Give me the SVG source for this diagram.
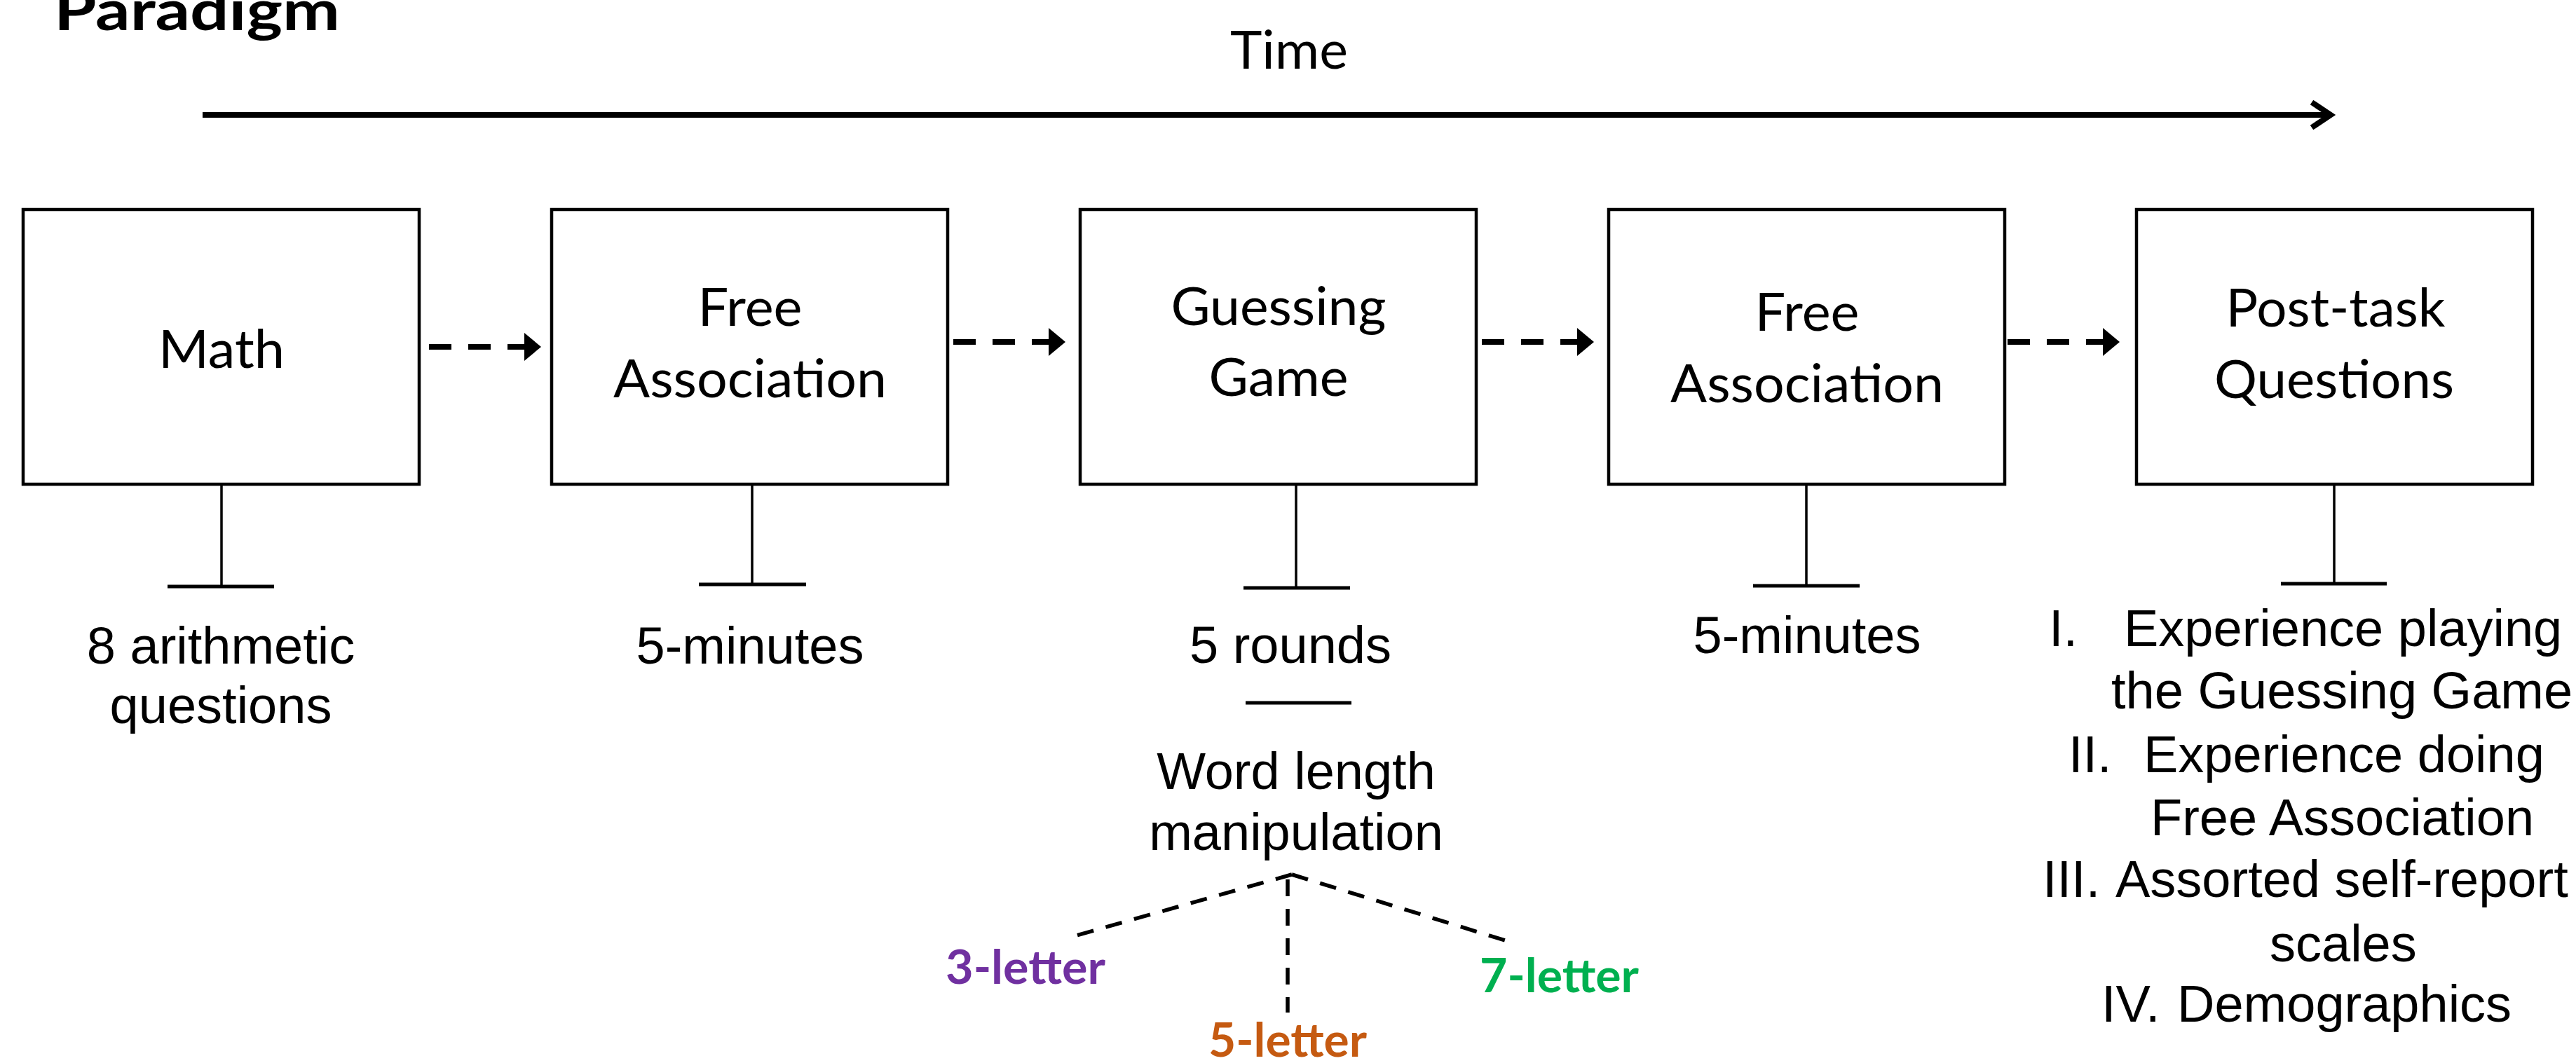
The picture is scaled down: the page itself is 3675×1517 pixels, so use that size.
<svg xmlns="http://www.w3.org/2000/svg" width="3675" height="1517" viewBox="0 0 3675 1517">
<style>
.box{fill:#fff;stroke:#000;stroke-width:4.5}
.bt{font-family:Lato,"Open Sans",sans-serif;font-size:76px;fill:#000;text-anchor:middle}
.lb{font-family:"Liberation Sans",Arial,sans-serif;font-size:74px;fill:#000;text-anchor:middle}
.ls{font-family:"Liberation Sans",Arial,sans-serif;font-size:74px;fill:#000}
.stem{stroke:#000;stroke-width:3.5}
.bar{stroke:#000;stroke-width:5}
.conn{stroke:#000;stroke-width:8;stroke-dasharray:32 24;fill:none}
.tree{stroke:#000;stroke-width:5.5;stroke-dasharray:24 18;fill:none}
.cl{font-family:Lato,"Open Sans",sans-serif;font-weight:bold;font-size:66px}
</style>
<defs>
<marker id="tri" viewBox="0 0 24 40" refX="0" refY="20" markerWidth="24" markerHeight="40" markerUnits="userSpaceOnUse" orient="auto">
<path d="M0,0 L24,20 L0,40 Z" fill="#000"/>
</marker>
</defs>
<rect width="3675" height="1517" fill="#fff"/>

<g id="title">
<text x="77" y="43" font-family="Lato,'Open Sans',sans-serif" font-weight="bold" font-size="80" textLength="408" lengthAdjust="spacingAndGlyphs">Paradigm</text>
</g>

<g id="timeline">
<text class="bt" x="1839" y="98" textLength="168" lengthAdjust="spacingAndGlyphs">Time</text>
<line x1="289" y1="164" x2="3322" y2="164" stroke="#000" stroke-width="8"/>
<polyline points="3298,146 3325,164 3298,182" fill="none" stroke="#000" stroke-width="8" stroke-linejoin="miter"/>
</g>

<g id="connectors">
<line class="conn" x1="612" y1="495" x2="748" y2="495" marker-end="url(#tri)"/>
<line class="conn" x1="1360" y1="488" x2="1496" y2="488" marker-end="url(#tri)"/>
<line class="conn" x1="2114" y1="488" x2="2250" y2="488" marker-end="url(#tri)"/>
<line class="conn" x1="2864" y1="488" x2="3000" y2="488" marker-end="url(#tri)"/>
<line class="stem" x1="316" y1="691" x2="316" y2="837"/>
<line class="bar" x1="239" y1="837" x2="391" y2="837"/>
<line class="stem" x1="1073" y1="691" x2="1073" y2="834"/>
<line class="bar" x1="997" y1="834" x2="1150" y2="834"/>
<line class="stem" x1="1849" y1="691" x2="1849" y2="839"/>
<line class="bar" x1="1774" y1="839" x2="1926" y2="839"/>
<line class="stem" x1="2577" y1="691" x2="2577" y2="836"/>
<line class="bar" x1="2501" y1="836" x2="2653" y2="836"/>
<line class="stem" x1="3330" y1="691" x2="3330" y2="833"/>
<line class="bar" x1="3254" y1="833" x2="3405" y2="833"/>
<line class="bar" x1="1777" y1="1003" x2="1928" y2="1003"/>
<line class="tree" x1="1843" y1="1248" x2="1525" y2="1338"/>
<line class="tree" x1="1843" y1="1248" x2="2147" y2="1342"/>
<line class="tree" x1="1837" y1="1255" x2="1837" y2="1445"/>
</g>

<g id="math">
<rect class="box" x="33" y="299" width="565" height="392"/>
<text class="bt" x="316" y="525" textLength="180" lengthAdjust="spacingAndGlyphs">Math</text>
<text class="lb" x="315" y="947">8 arithmetic</text>
<text class="lb" x="315" y="1032">questions</text>
</g>

<g id="free-association-1">
<rect class="box" x="787" y="299" width="565" height="392"/>
<text class="bt" x="1070" y="465" textLength="149" lengthAdjust="spacingAndGlyphs">Free</text>
<text class="bt" x="1070" y="567" textLength="390" lengthAdjust="spacingAndGlyphs">Association</text>
<text class="lb" x="1070" y="947">5-minutes</text>
</g>

<g id="guessing-game">
<rect class="box" x="1541" y="299" width="565" height="392"/>
<text class="bt" x="1824" y="464" textLength="307" lengthAdjust="spacingAndGlyphs">Guessing</text>
<text class="bt" x="1824" y="565" textLength="199" lengthAdjust="spacingAndGlyphs">Game</text>
<text class="lb" x="1841" y="946">5 rounds</text>
<text class="lb" x="1849" y="1126">Word length</text>
<text class="lb" x="1849" y="1213">manipulation</text>
<text class="cl" x="1349" y="1404" fill="#7030A0" textLength="228" lengthAdjust="spacingAndGlyphs">3-letter</text>
<text class="cl" x="1724" y="1508" fill="#C55A11" textLength="226" lengthAdjust="spacingAndGlyphs">5-letter</text>
<text class="cl" x="2111" y="1416" fill="#00B050" textLength="227" lengthAdjust="spacingAndGlyphs">7-letter</text>
</g>

<g id="free-association-2">
<rect class="box" x="2295" y="299" width="565" height="392"/>
<text class="bt" x="2578" y="472" textLength="149" lengthAdjust="spacingAndGlyphs">Free</text>
<text class="bt" x="2578" y="574" textLength="390" lengthAdjust="spacingAndGlyphs">Association</text>
<text class="lb" x="2578" y="932">5-minutes</text>
</g>

<g id="post-task-questions">
<rect class="box" x="3048" y="299" width="565" height="392"/>
<text class="bt" x="3332" y="466" textLength="313" lengthAdjust="spacingAndGlyphs">Post-task</text>
<text class="bt" x="3330" y="568" textLength="342" lengthAdjust="spacingAndGlyphs">Questions</text>
<text class="ls" x="2923" y="922">I.</text>
<text class="ls" x="3030" y="922">Experience playing</text>
<text class="ls" x="3012" y="1011">the Guessing Game</text>
<text class="ls" x="2951" y="1102">II.</text>
<text class="ls" x="3058" y="1102">Experience doing</text>
<text class="ls" x="3068" y="1192">Free Association</text>
<text class="ls" x="2914" y="1280">III.</text>
<text class="ls" x="3018" y="1280">Assorted self-report</text>
<text class="ls" x="3238" y="1372">scales</text>
<text class="ls" x="2998" y="1458">IV.</text>
<text class="ls" x="3106" y="1458">Demographics</text>
</g>
</svg>
